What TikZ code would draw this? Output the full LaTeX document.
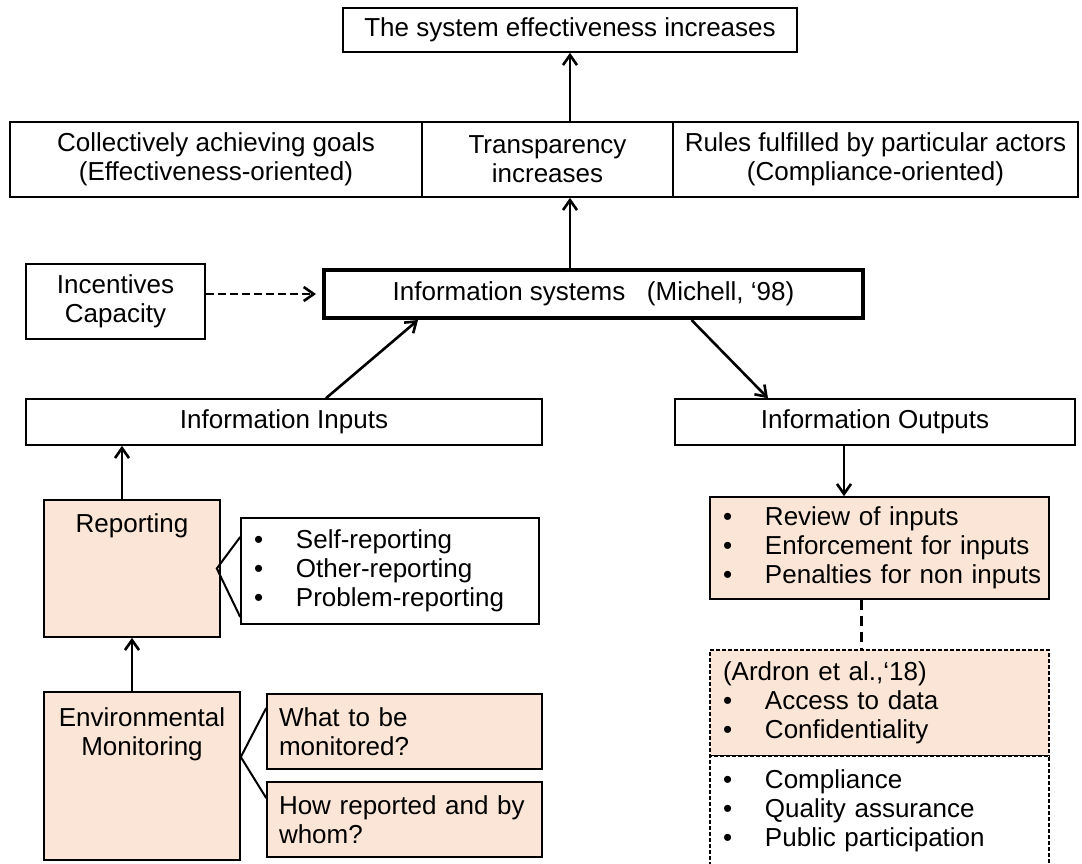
\documentclass[tikz,border=0pt]{standalone}
\usepackage{fontspec}
\setmainfont{Liberation Sans}
\usetikzlibrary{arrows.meta}
\definecolor{peach}{HTML}{FBE5D6}
\newcommand{\bul}{\makebox[21pt][l]{\textbullet}}

\begin{document}
\begin{tikzpicture}[x=0.5pt,y=-0.5pt,
  every node/.style={font=\fontsize{13}{14.5}\selectfont,inner sep=0pt},
  box/.style={draw,line width=0.8pt,align=center},
  peachbox/.style={box,fill=peach},
  listbox/.style={draw,line width=0.8pt,align=left,inner xsep=6.5pt},
  arr/.style={-{Straight Barb[length=5pt,width=7pt]},line width=1.3pt}]
\useasboundingbox (0,0) rectangle (1082,863);

\path (570,30) node[box,minimum width=227pt,minimum height=22pt](Top){The system effectiveness increases}
 (216,159.5) node[box,minimum width=206pt,minimum height=37.5pt](Goals){Collectively achieving goals\\(Effectiveness-oriented)}
 (547.5,159.5) node[box,minimum width=125.5pt,minimum height=37.5pt](Transparency){Transparency\\increases}
 (875.5,159.5) node[box,minimum width=202.5pt,minimum height=37.5pt](Rules){Rules fulfilled by particular actors\\(Compliance-oriented)}
 (115.5,301.5) node[box,minimum width=89.5pt,minimum height=37.5pt](Incentives){Incentives\\Capacity}
 (593.5,294) node[box,line width=2pt,minimum width=269.5pt,minimum height=24pt](InfoSystems){Information systems\ \ \ (Michell, ‘98)}
 (284,422) node[box,minimum width=258pt,minimum height=23pt](Inputs){Information Inputs}
 (875,422) node[box,minimum width=200pt,minimum height=23pt](Outputs){Information Outputs};

\path (132,568.5) node[peachbox,minimum width=88pt,minimum height=68.5pt,label={[anchor=north,yshift=-7pt]north:Reporting}](Reporting){}
 (390,571) node[listbox,text width=136pt,minimum height=53pt](ReportTypes){\bul Self-reporting\\\bul Other-reporting\\\bul Problem-reporting}
 (142,776) node[peachbox,minimum width=98pt,minimum height=84pt,label={[anchor=north,yshift=-8pt,align=center]north:Environmental\\Monitoring}](Monitoring){}
 (404.5,731.5) node[listbox,fill=peach,inner xsep=6pt,text width=125.5pt,minimum height=37.5pt](WhatBox){What to be\\monitored?}
 (404.5,819.5) node[listbox,fill=peach,inner xsep=6pt,text width=125.5pt,minimum height=37.5pt](HowBox){How reported and by\\whom?};

\path (879.5,548) node[listbox,fill=peach,text width=156.5pt,minimum height=51pt](Review){\bul Review of inputs\\\bul Enforcement for inputs\\\bul \mbox{Penalties for non inputs}}
 (879.5,703) node[listbox,fill=peach,line width=0.6pt,dash pattern=on 2pt off 1pt,text width=156.5pt,minimum height=53pt](Ardron){(Ardron et al.,‘18)\\\bul Access to data\\\bul Confidentiality}
 (879.5,811) node[listbox,fill=white,line width=0.6pt,dash pattern=on 2pt off 1pt,text width=156.5pt,minimum height=55pt](Compliance){\bul Compliance\\\bul Quality assurance\\\bul Public participation};

\draw[arr] (Transparency.north -| Top.south) -- (Top.south);
\draw[arr] (InfoSystems.north -| Top.south) -- (Transparency.south -| Top.south);
\draw[arr,dash pattern=on 4pt off 2pt,shorten >=3pt] (Incentives.east |- InfoSystems.west) -- (InfoSystems.west);
\draw[arr] ([xshift=21pt]Inputs.north) -- ([xshift=-87.75pt]InfoSystems.south);
\draw[arr] ([xshift=49pt]InfoSystems.south) -- ([xshift=-53.5pt]Outputs.north);
\draw[arr] ([xshift=-15.5pt]Outputs.south) -- ([xshift=-15.5pt]Outputs.south |- Review.north);
\draw[arr] ([xshift=-5pt]Reporting.north) -- ([xshift=-5pt]Reporting.north |- Inputs.south);
\draw[arr] (Monitoring.north -| Reporting.south) -- (Reporting.south);
\draw[line width=1.5pt,dash pattern=on 5pt off 3pt] ([xshift=-9.25pt]Review.south) -- ([xshift=-9.25pt]Review.south |- Ardron.north);

\draw[line width=1pt] ([yshift=17pt]ReportTypes.west) -- ([xshift=-2pt]Reporting.east) -- ([yshift=-23pt]ReportTypes.west);
\draw[line width=1pt] ([yshift=11.75pt]WhatBox.west) -- ([yshift=9.5pt]Monitoring.east) -- ([yshift=10.75pt]HowBox.west);
\end{tikzpicture}
\end{document}
